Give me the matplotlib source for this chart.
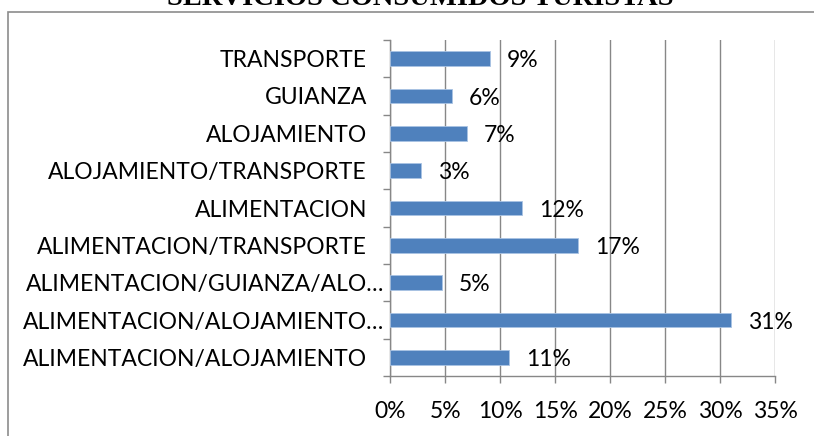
import matplotlib
matplotlib.use("Agg")
import matplotlib.pyplot as plt
from matplotlib.patches import Rectangle
from matplotlib.ticker import FixedLocator, FuncFormatter
from matplotlib.transforms import ScaledTranslation

# Services consumed by tourists (share of respondents), top to bottom
categories = [
    "TRANSPORTE",
    "GUIANZA",
    "ALOJAMIENTO",
    "ALOJAMIENTO/TRANSPORTE",
    "ALIMENTACION",
    "ALIMENTACION/TRANSPORTE",
    "ALIMENTACION/GUIANZA/ALO…",
    "ALIMENTACION/ALOJAMIENTO…",
    "ALIMENTACION/ALOJAMIENTO",
]
shares = [0.091, 0.056, 0.070, 0.028, 0.120, 0.171, 0.047, 0.310, 0.108]
x_ticks = [0.00, 0.05, 0.10, 0.15, 0.20, 0.25, 0.30, 0.35]
title = "SERVICIOS CONSUMIDOS TURISTAS"

BAR = "#4F81BD"
GRID = "#878787"
FONT = "Lato"
FS = 16.5

W, H = 814, 436
fig = plt.figure(figsize=(W / 100, H / 100), dpi=100)

# chart frame (continues past the right and bottom edges)
frame = Rectangle((8 / W, -0.2), 1.3, 0.2 + 1 - 11.7 / H,
                  transform=fig.transFigure, fill=False,
                  edgecolor="#8c8c8c", linewidth=1.2, clip_on=False)
fig.patches.append(frame)

fig.text(420 / W, 1 - 5 / H, title, ha="center", va="baseline",
         family="Liberation Serif", fontweight="bold", fontsize=20.5)

ax = fig.add_axes([390.3 / W, 1 - 376 / H, (775.3 - 390.3) / W, (376 - 40) / H])
ypos = list(range(len(categories)))
ax.barh(ypos, shares, height=0.40, color=BAR, edgecolor="#a9c3e3",
        linewidth=0.6, zorder=3)

for y, v in zip(ypos, shares):
    ax.annotate(f"{v * 100:.0f}%", (v, y), xytext=(12, -1.5),
                textcoords="offset points", ha="left", va="center",
                family=FONT, fontsize=FS, color="black")

ax.set_xlim(0, 0.35)
ax.set_ylim(len(categories) - 0.5, -0.5)
ax.set_xticks(x_ticks)
ax.xaxis.set_major_formatter(FuncFormatter(lambda v, p: f"{v * 100:.0f}%"))
ax.grid(axis="x", color=GRID, linewidth=1.0, zorder=0)
ax.set_axisbelow(True)

ax.set_yticks(ypos)
ax.set_yticklabels(categories)
ax.yaxis.set_minor_locator(FixedLocator([i - 0.5 for i in range(len(categories) + 1)]))
ax.tick_params(axis="y", which="major", length=0, pad=16.8)
ax.tick_params(axis="y", which="minor", length=5, width=1.0, color=GRID, direction="out")
ax.tick_params(axis="x", which="major", length=5, width=1.0, color=GRID,
               direction="out", pad=13)

for lab in ax.get_yticklabels() + ax.get_xticklabels():
    lab.set_family(FONT)
    lab.set_fontsize(FS)
# truncated category names overhang to the right of the others
for lab in ax.get_yticklabels():
    if lab.get_text().endswith("…"):
        lab.set_transform(lab.get_transform() +
                          ScaledTranslation(17 / 100, 0, fig.dpi_scale_trans))

for side in ("top", "right"):
    ax.spines[side].set_visible(False)
for side in ("left", "bottom"):
    ax.spines[side].set_color(GRID)
    ax.spines[side].set_linewidth(1.0)

fig.savefig("out.png", dpi=100)
